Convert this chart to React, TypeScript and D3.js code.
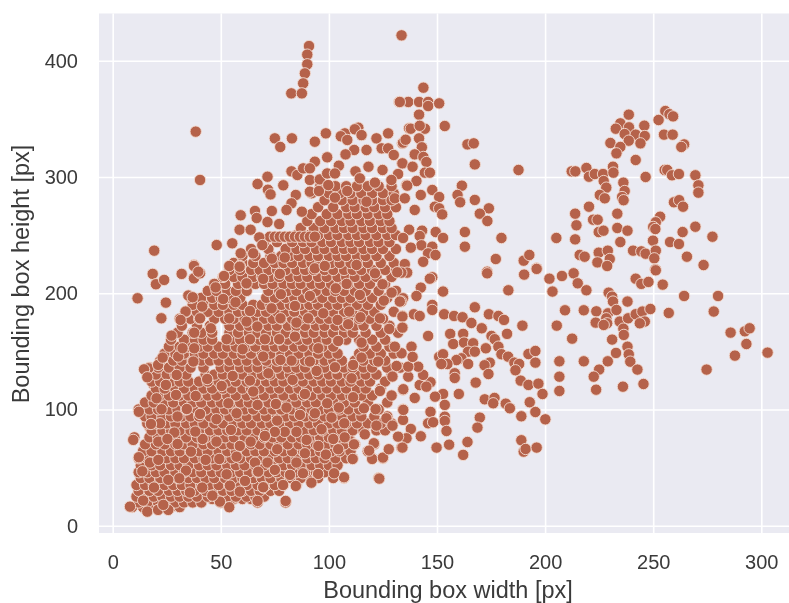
import React, { useRef, useEffect } from 'react';
import * as d3 from 'd3';

const xTicks = [0, 50, 100, 150, 200, 250, 300];
const yTicks = [0, 100, 200, 300, 400];

// lower blob, dots half hidden between the rows below
const underHeights = [23, 33, 38, 44, 49, 55, 61, 67, 73, 79, 85, 91, 97, 103, 109, 115, 121];
const underWidths = [
  [13, 17, 21, 25, 29, 33, 37, 41, 46, 51, 56, 60, 64],
  [13, 17, 22, 26, 30, 34, 39, 43, 47, 52, 56, 60, 65, 69],
  [14, 18, 23, 27, 31, 37, 42, 46, 50, 55, 60, 64, 68, 72, 77],
  [15, 19, 24, 28, 32, 37, 41, 45, 50, 54, 58, 62, 67, 71, 75, 80, 84],
  [14, 18, 22, 26, 31, 35, 39, 44, 48, 52, 57, 61, 65, 69, 74, 78, 82, 87, 91],
  [15, 20, 24, 29, 33, 37, 42, 46, 50, 55, 59, 63, 68, 72, 76, 81, 85, 89, 94],
  [14, 18, 22, 27, 31, 35, 40, 44, 48, 53, 57, 61, 66, 70, 74, 79, 83, 87, 92, 96, 101],
  [16, 20, 25, 29, 33, 38, 42, 47, 51, 55, 60, 64, 68, 73, 77, 81, 86, 90, 94, 98, 103],
  [18, 22, 27, 31, 35, 40, 44, 49, 53, 57, 62, 66, 71, 75, 79, 84, 88, 92, 97, 101, 105, 110],
  [19, 24, 28, 33, 37, 41, 46, 50, 55, 59, 63, 68, 72, 77, 81, 85, 90, 94, 99, 103, 107],
  [17, 22, 26, 30, 35, 39, 44, 48, 52, 57, 61, 66, 70, 74, 79, 83, 88, 92, 96, 101, 105, 110, 115],
  [16, 21, 25, 29, 34, 38, 43, 47, 52, 56, 60, 65, 69, 74, 78, 82, 87, 91, 96, 100, 104, 109, 113],
  [15, 19, 24, 28, 33, 37, 41, 46, 50, 55, 59, 63, 68, 72, 77, 81, 85, 90, 94, 99, 103, 107],
  [16, 20, 25, 29, 34, 38, 42, 47, 51, 56, 60, 64, 69, 73, 78, 82, 86, 91, 95, 100, 104],
  [19, 23, 28, 32, 37, 41, 45, 50, 54, 59, 63, 67, 72, 76, 81, 85, 89, 94, 98, 103, 107],
  [21, 25, 30, 34, 39, 43, 47, 52, 56, 61, 65, 69, 74, 78, 83, 87, 91, 96, 100, 105, 110],
  [19, 23, 28, 32, 37, 41, 45, 50, 54, 59, 63, 67, 72, 76, 81, 85, 89, 94, 98, 103, 107, 112],
];

// main blob, read row by row: one height, then the widths seen at that height
const blobHeights = [16, 20, 25, 30, 35, 41, 46, 52, 58, 64, 70, 76, 82, 88, 94, 100, 106, 112, 118, 124, 130, 136, 142, 148, 154, 160, 166, 172, 178, 184, 190, 196, 202, 208, 214, 220, 226, 232, 238, 244, 250, 256, 262, 268, 274, 280, 286, 292];
const blobWidths = [
  [9, 14, 19, 23, 27, 31],
  [12, 16, 21, 25, 29, 33, 37, 41, 50, 54, 67, 80],
  [11, 15, 19, 23, 27, 31, 35, 39, 44, 48, 53, 57, 62, 66, 70],
  [12, 17, 21, 26, 30, 34, 38, 43, 47, 51, 55, 60, 64, 68, 73, 77],
  [11, 15, 19, 24, 28, 32, 36, 41, 45, 49, 54, 58, 62, 67, 71, 75, 79, 85],
  [13, 17, 22, 26, 30, 35, 39, 43, 47, 52, 56, 60, 65, 69, 73, 78, 82, 87, 92, 95, 102, 107, 123],
  [12, 16, 20, 24, 29, 33, 37, 41, 46, 50, 55, 59, 63, 67, 72, 76, 80, 85, 89, 94, 98],
  [13, 18, 22, 27, 31, 35, 40, 44, 48, 53, 57, 61, 66, 70, 74, 79, 83, 87, 92, 96, 100, 104],
  [12, 16, 20, 25, 29, 33, 38, 42, 46, 51, 55, 59, 64, 68, 72, 77, 81, 85, 90, 94, 98, 103, 108, 111, 120, 125],
  [14, 18, 23, 27, 31, 36, 40, 44, 49, 53, 57, 62, 66, 70, 75, 79, 83, 88, 92, 96, 101, 105, 110, 118],
  [15, 20, 24, 29, 33, 37, 42, 46, 51, 55, 59, 64, 68, 73, 77, 81, 86, 90, 94, 99, 103, 107, 112, 121],
  [10, 17, 21, 26, 30, 34, 39, 43, 48, 52, 56, 61, 65, 70, 74, 78, 83, 87, 91, 96, 100, 105, 109],
  [18, 23, 27, 31, 36, 40, 45, 49, 53, 58, 62, 67, 71, 75, 80, 84, 89, 93, 97, 102, 106, 111, 116, 122, 126],
  [16, 20, 25, 29, 34, 38, 42, 47, 51, 56, 60, 64, 69, 73, 78, 82, 86, 91, 95, 100, 104, 108, 113, 118, 124, 129],
  [15, 18, 23, 27, 32, 36, 40, 45, 49, 54, 58, 62, 67, 71, 76, 80, 84, 89, 93, 98, 102, 106, 111, 115, 121, 127],
  [12, 17, 21, 26, 30, 34, 39, 43, 48, 52, 56, 61, 65, 70, 74, 78, 83, 87, 92, 96, 100, 105, 109, 114, 123],
  [15, 19, 24, 28, 33, 37, 41, 46, 50, 55, 59, 63, 68, 72, 77, 81, 85, 90, 94, 99, 103, 107, 112, 118, 127],
  [18, 22, 26, 31, 35, 40, 44, 48, 53, 57, 62, 66, 70, 75, 79, 84, 88, 92, 97, 101, 106, 110, 115, 120, 129],
  [20, 24, 29, 33, 38, 42, 46, 51, 55, 60, 64, 68, 73, 77, 82, 86, 90, 95, 99, 104, 108, 113, 117, 124],
  [18, 22, 27, 31, 35, 40, 44, 49, 53, 57, 62, 66, 71, 75, 79, 84, 88, 93, 97, 101, 106, 110, 115, 119, 126],
  [16, 20, 25, 29, 34, 43, 47, 51, 56, 60, 65, 69, 73, 78, 82, 87, 91, 95, 100, 104, 109, 113, 117, 122, 129],
  [17, 21, 26, 31, 36, 42, 50, 54, 59, 63, 67, 72, 76, 81, 85, 89, 94, 98, 103, 107, 111, 116, 120, 127, 133],
  [22, 28, 32, 37, 41, 45, 49, 54, 58, 62, 67, 71, 76, 80, 84, 89, 93, 98, 102, 106, 112, 116, 121, 126],
  [24, 29, 33, 38, 42, 47, 51, 56, 60, 64, 69, 73, 78, 82, 86, 91, 95, 100, 104, 114, 119, 124, 130],
  [26, 31, 35, 40, 44, 49, 53, 57, 62, 66, 71, 75, 79, 84, 88, 93, 97, 102, 116, 122, 128],
  [27, 33, 38, 42, 46, 55, 59, 64, 68, 73, 77, 81, 86, 90, 95, 99, 104, 108, 114, 120, 126],
  [30, 37, 41, 46, 54, 58, 63, 67, 71, 76, 80, 85, 89, 93, 98, 102, 107, 111, 117, 124, 132],
  [32, 39, 45, 54, 59, 63, 67, 72, 76, 81, 85, 89, 94, 98, 103, 107, 112, 116, 122, 128],
  [31, 36, 40, 47, 52, 56, 61, 65, 70, 74, 78, 83, 87, 92, 96, 100, 105, 109, 114, 119, 125],
  [34, 39, 44, 49, 54, 58, 62, 67, 71, 76, 80, 84, 89, 93, 98, 102, 107, 111, 116, 121, 130],
  [37, 42, 47, 51, 56, 60, 65, 69, 73, 78, 82, 87, 91, 95, 100, 104, 109, 113, 118, 124],
  [36, 41, 46, 50, 54, 59, 71, 75, 80, 84, 88, 93, 97, 102, 106, 110, 115, 120, 127],
  [44, 48, 53, 57, 62, 72, 77, 81, 85, 90, 94, 99, 103, 107, 112, 117, 123, 131],
  [47, 52, 58, 62, 66, 70, 74, 79, 83, 87, 92, 96, 101, 105, 109, 114, 119, 126],
  [51, 56, 60, 65, 69, 73, 77, 82, 86, 90, 95, 99, 104, 108, 112, 117, 122, 129],
  [54, 59, 64, 68, 72, 76, 80, 85, 89, 93, 98, 102, 107, 111, 115, 120, 126, 131],
  [56, 60, 65, 70, 75, 79, 83, 88, 92, 96, 101, 105, 110, 114, 118, 124, 130],
  [60, 66, 73, 78, 82, 86, 91, 95, 100, 104, 108, 113, 117, 122, 128],
  [64, 72, 80, 85, 89, 94, 98, 103, 107, 111, 116, 120, 125, 131],
  [70, 76, 83, 88, 92, 97, 101, 106, 110, 114, 119, 123, 128],
  [85, 91, 95, 100, 104, 109, 113, 117, 122, 127, 131],
  [87, 93, 98, 103, 107, 111, 116, 120, 125, 129],
  [90, 96, 101, 106, 110, 115, 119, 124, 128],
  [92, 99, 104, 109, 113, 118, 123, 127],
  [95, 102, 108, 112, 117, 121, 126, 131],
  [98, 106, 111, 116, 120, 125, 129],
  [92, 100, 105, 110, 115, 120, 125, 130],
  [96, 103, 108, 113, 118, 123, 129],
];

// the row of near identical boxes at about 249 px high
const flatRowWidths = [72.7, 75, 77.3, 79.6, 81.9, 84.3, 86.6, 88.9, 91.2, 93.5];

// left edge and stragglers of the blob
const edgeWidths = [8, 16, 21, 25.7, 14.1, 23.4, 53.9, 49.6, 80, 67, 123.3, 107, 102.4, 95, 88, 84.7, 78.8, 69.6, 91.9, 120, 125, 111, 111.6, 107.3, 120.8, 118.6, 127.7, 133.6, 9.5, 12.1, 12.1, 11.5, 24.6, 22.5, 18.5, 20, 23.8, 31.9, 37.6, 37.6, 40.4, 27.2, 16.5, 14.5, 16, 21, 23.1, 35, 37, 47.6, 51.5, 58.8, 33.7, 31.4, 40.4, 41.4, 37.7, 45.4];
const edgeHeights = [16.4, 12.1, 13.6, 13.6, 21.6, 17.9, 15.9, 20.7, 21.3, 21.3, 40.5, 41.7, 45.1, 44.5, 45.1, 34.2, 35, 32.8, 37, 57.4, 58.6, 57.4, 70, 76, 70.9, 64.6, 65.8, 67.2, 73.8, 58.9, 98, 195.6, 191.9, 178.4, 216.6, 207.7, 211.4, 216.6, 212.8, 224.3, 217.1, 163.5, 135.4, 134.5, 127.7, 138.3, 144.6, 198, 196.5, 205, 214.8, 223.4, 184.2, 177, 178.4, 188.5, 166, 169.8];

// top of the blob, above about 220 px high
const crownWidths = [90.8, 90, 90, 88.9, 88.1, 82.6, 87.5, 132.5, 38.4, 40.4, 75, 82.9, 77.5, 93.5, 98.6, 107.4, 105.5, 113.6, 112, 108.5, 115.1, 122, 127.4, 137.1, 134, 111.7, 117.4, 124.4, 127.4, 107.7, 130, 93.5, 99.2, 104.6, 118.3, 133.9, 124.8, 112.3, 82.7, 85.4, 88.1, 91.2, 91.2, 95.8, 99.2, 102.8, 114.3, 121.3, 132, 128.9, 135.9, 71.6, 67, 71.8, 73, 78.9, 84.7, 91.2, 95.4, 102.8, 99.7, 108.5, 117.4, 130.5, 82.7, 80.4, 73.6, 65.8, 59.2, 66.6, 71.6, 77, 87.5, 58.7, 63.8, 67.8, 55.3, 48.1, 69.2, 19.2, 59.2, 65, 73.6, 79.6, 53.9, 58.7, 37.6, 39.6];
const crownHeights = [412.6, 405.2, 396.9, 389.1, 380.5, 371.9, 371.9, 364.5, 339, 297.4, 333.2, 333.2, 325.8, 330.3, 337.5, 337.5, 335, 342.4, 341, 331.8, 336, 333.2, 337.5, 341.8, 328.9, 323.2, 323.2, 324.6, 324.6, 319.4, 318.9, 313.1, 316.9, 309.7, 308.8, 311.7, 306, 304.8, 304.8, 301.7, 307.4, 307.4, 297.4, 297.9, 303, 303, 298.8, 295.1, 302.5, 297.4, 293, 300.2, 293.9, 289, 285, 292.8, 284.5, 287.3, 287.9, 282.2, 293, 287.9, 278.7, 281.6, 277.3, 271.6, 270.7, 270.7, 267, 264.7, 261.2, 259.5, 270.1, 254.6, 254.6, 248, 242.9, 241.4, 241.4, 236.6, 234.3, 234.3, 229.7, 230.6, 223.4, 222.8, 223.4, 218.5];

// scattered points right of the blob, upper half
const upperWidths = [133.6, 143.7, 136.7, 141.7, 145.9, 145.9, 151, 132.8, 141.7, 137.9, 144.4, 142, 153.6, 141.7, 134.3, 135.5, 143, 139.7, 143.7, 145.1, 134, 138.7, 144.4, 146.7, 140.5, 136.2, 147.8, 142.5, 151, 135.1, 139.7, 149, 151, 152.4, 137.1, 143.1, 149.4, 152.8, 142, 134.3, 142.8, 137.9, 147.8, 145.9, 149.3, 143.6, 135.1, 164.1, 167, 167.5, 187.7, 161.5, 159.5, 160.7, 167.5, 174, 169.8, 173.3, 162.9, 179.8, 162.9, 177.2, 190.1, 192.7, 196.1, 173.2];
const upperHeights = [421.8, 376.8, 364.5, 364.5, 364.5, 361, 363.3, 364.5, 353.6, 341.5, 341.5, 344, 343.8, 333.2, 329.5, 332, 325.5, 319.4, 317.2, 312.8, 311.7, 308.8, 303.7, 303.7, 296.5, 292.5, 288.8, 284.5, 282.7, 281.6, 271.6, 274.4, 273, 267.8, 254.6, 253.8, 252.6, 247.5, 249.2, 247.5, 241.2, 239.2, 240, 234.3, 232.9, 227, 225, 328, 328.9, 310.8, 306, 292.5, 284.5, 278.2, 280.2, 273, 268.4, 262.1, 252.6, 247.5, 240, 229.4, 228, 232.9, 221.4, 218.5];

// far right cluster, above 205 px high
const clusterWidths = [238.7, 234.8, 232.7, 238.8, 245.9, 236.8, 241.9, 246.1, 238.7, 244.1, 230.2, 234.8, 233, 241.9, 255.6, 257.5, 259.2, 252.5, 255, 259, 264.3, 263, 212.3, 214, 219.1, 220.3, 223, 226.8, 231.4, 231.6, 227.1, 228.3, 236.2, 236.8, 225.3, 227.6, 235.6, 236.3, 246.5, 255.3, 256.5, 258.7, 261.9, 269.5, 270.9, 270.9, 259.6, 262, 263.8, 220.3, 213.9, 214.5, 213.9, 205.2, 222.2, 224.3, 224.8, 227, 233.4, 233.4, 238.1, 234.8, 253.2, 251.2, 250, 251, 249.9, 257.8, 261.9, 263.6, 269.5, 277.4, 265.6, 273.3, 216, 218.3, 224.8, 229, 229.9, 224.2, 228.7, 240.7, 244.5, 246.5, 251.2, 250.5, 251];
const clusterHeights = [353.6, 346.1, 341.5, 342.7, 344.1, 336.9, 336.4, 335.2, 331.2, 328.9, 329.2, 325.8, 320.3, 314.6, 356.7, 354, 352.1, 349, 336.4, 336.4, 328, 325.8, 304.8, 304.8, 307.7, 300.2, 302.5, 302.5, 308.8, 303.7, 296.5, 290.8, 295.1, 287.9, 284.5, 281.6, 282.7, 280, 300, 306, 306, 301.4, 302.5, 301.4, 292.8, 286.5, 278.2, 280, 274.4, 274.4, 268.4, 258.4, 246.3, 247.5, 263.2, 263.2, 252.6, 253.8, 268.4, 256.1, 253.8, 244, 265.8, 261, 257, 255.2, 245.2, 244, 242.3, 252.6, 257.2, 248.6, 231.4, 224.2, 232.9, 231.4, 234.9, 236.6, 229.4, 226.5, 223.4, 236.6, 236, 234, 236.6, 230, 220.5];

// scattered points right of the blob, lower half
const lowerWidths = [196.1, 190.3, 173.2, 213.2, 207.8, 202, 215.1, 219.1, 203.4, 183, 152.8, 147.8, 146.7, 142.5, 140.5, 134.3, 133.5, 136.2, 133.5, 147.8, 147.8, 153.3, 157.9, 161.8, 167.5, 174, 178.4, 181, 165.9, 170.7, 189.5, 182.4, 156.1, 162.1, 175.2, 176.7, 145.9, 157.5, 162.5, 166.7, 172.6, 178.4, 164.4, 167.5, 179.8, 182.9, 192.3, 195.5, 151, 152.8, 161.3, 159, 154.8, 152, 164.4, 174.4, 172, 185.8, 188, 195.5, 186.3, 173.8, 158.2, 158.2, 167.9, 188.7, 192.3, 196.9, 198.8, 160.1, 152.8, 149.1, 139.7, 134.3, 147, 142, 145.1, 143.6, 141.3, 136.7, 136.7, 139.3, 142, 134, 134, 138.2, 138.7, 133.6, 172.1, 176.6, 176, 181.8, 183.7, 192.9, 195.5, 200.1, 189, 169.8, 168.7, 153.6, 153.6, 153.6, 154.4, 147, 145.9, 148.2, 134.3, 134.3, 137.9, 142.5, 135.9, 134, 149.8, 155.6, 164.1, 162.1, 189, 190.1, 191, 196.1];
const lowerHeights = [220.9, 216, 217.1, 217.1, 214.8, 212.5, 208.5, 202.5, 201.4, 202.5, 201.4, 213.7, 212.5, 204.8, 197.6, 195.6, 192.8, 217.7, 217.7, 189.9, 185.6, 181.9, 180.4, 179.3, 187.9, 181.9, 180.4, 177, 174.4, 169.8, 172.1, 165, 165, 165, 163.2, 160.4, 163.2, 156.3, 157.5, 156.9, 152.6, 154, 149.7, 149.7, 147.5, 145.4, 147.7, 150.3, 145.2, 147.5, 144, 142.5, 139.1, 139.1, 139.1, 140.3, 138, 140.3, 139.1, 140.3, 133.7, 130.5, 131.1, 127.1, 123.1, 124.8, 121.1, 122.2, 113.3, 113.3, 113.3, 111, 109.9, 117, 123.4, 121, 119.6, 129.7, 136.8, 128.2, 136.8, 181.9, 180.4, 180.4, 170.4, 154, 145.2, 148.3, 108.7, 109.9, 105.3, 105, 101, 106.2, 97.8, 91.5, 94.1, 93, 84.4, 103.9, 93.8, 90.1, 81.5, 97.9, 88.1, 89, 100.1, 91, 83.2, 76.9, 75.2, 67.2, 67.2, 69.7, 72, 60.9, 73.5, 63.7, 66, 67.2];

// far right cluster, below 205 px high
const tailWidths = [205.4, 209.2, 217.9, 212.5, 206.6, 206.6, 206.6, 217.9, 223.7, 223.4, 229.4, 231, 231.4, 238.1, 229.1, 228.3, 228.7, 227.1, 233, 234.5, 238.4, 241.9, 245, 248.7, 246.1, 243.8, 236.2, 236.4, 231, 238.1, 238.7, 239.4, 232.8, 229, 225, 222.5, 223.6, 242.7, 236, 245.5, 241.9, 244.5, 247.8, 251.2, 254.4, 257.2, 264.3, 280, 278, 285.8, 292.4, 294.6, 293.1, 287.8, 302.9, 274.7];
const tailHeights = [172.1, 185.3, 185.3, 160.9, 141.4, 128.2, 115.9, 141.4, 184.4, 174.7, 200.5, 197, 192.8, 192.8, 182.7, 178.4, 174.1, 172.7, 185.6, 175.6, 178.4, 181.9, 184.2, 186.4, 175.6, 174.1, 169.5, 164.1, 160.1, 154, 147.4, 141.1, 148.6, 141.4, 134.3, 128.2, 117, 134.3, 119.6, 121.9, 212.5, 208, 209.7, 219.7, 207.4, 183, 197.6, 197.6, 184.2, 166.1, 167.2, 169.8, 156.3, 146.3, 148.9, 134.3];

// whole dots lying on top of the blob, drawn last
const topWidths = [22.6, 30, 34.3, 40.4, 48, 53.5, 57.3, 67, 75.5, 80.4, 86.6, 93.5, 88.9, 99.2, 104.6, 111.2, 101.2, 107.1, 96.6, 89.7, 85, 79.6, 75, 76.1, 70.4, 63.8, 58.8, 54.7, 48, 41.6, 38.2, 28.5, 21.9, 17.7, 21.1, 25.3, 30, 36.2, 43, 49.3, 57.3, 65.8, 71.6, 76.1, 85, 88.9, 98.6, 104.3, 102, 95.1, 17.2, 13.7, 21.1, 33.9, 30.8, 19.1, 25.7, 35.7, 41.4, 46.1, 54.2, 58.8, 61.2, 69.6, 52.7, 67.3, 82, 75, 43.7, 50.4, 55.5, 63.5, 65, 72, 82.7, 83.2, 94.3, 102.8, 110.5, 111.2, 91.2, 77.6, 69.6, 60.1, 63.5, 70.4, 77, 84.3, 95.1, 104.3, 115.1, 115.1, 122.8, 130.5, 131.3, 129.4, 134.4, 123.6, 116.2, 121.6, 134.4, 126.6, 129.4, 122, 116.6, 132, 66.9, 61.9, 53.9, 63.5, 77.6, 85, 90.4, 104, 108.9, 109.4, 97.4, 91.2, 84.3, 77.8, 73.5, 56.8, 51.1, 61.9, 69.6, 77.3, 93.5, 98.1, 112.8, 121.3, 131.6, 124.8, 114.3, 103.2, 108.2, 125.4, 129, 132.8, 123.6, 134, 134, 127.9, 114.6, 29.6, 24.6, 29.3, 20.3, 38.4, 37.3, 30.3, 32.3, 37.7, 52.7];
const topHeights = [100.2, 93.9, 100.4, 96.1, 91.6, 105.3, 96.7, 103.9, 104.7, 101.6, 95.3, 96.7, 113.3, 105.3, 101.6, 110.5, 93, 88.1, 83, 73.8, 80.7, 80.7, 80.7, 90.4, 77.2, 72.3, 68.6, 82.4, 72.3, 74.6, 80.9, 80.1, 88.1, 87.5, 72.3, 74.6, 70.3, 63.7, 56.6, 57.4, 59.4, 54.3, 54.3, 65.8, 54.3, 62.3, 61.2, 65.8, 74.6, 68.6, 54.3, 46.8, 56.6, 47.4, 40.8, 32.8, 39.4, 28.5, 32.8, 25.9, 34.5, 29.3, 38.5, 33.1, 44.2, 46.5, 43.7, 48, 126.2, 120.2, 128.8, 124.8, 115.4, 131.1, 142, 125.4, 133.1, 136.3, 126.8, 138.3, 141.2, 142.6, 145.5, 151.8, 160.4, 160.4, 160.4, 162.6, 152.6, 158.9, 157.5, 144.6, 141.2, 154, 137.4, 128.3, 117.4, 115.9, 101, 100.2, 99.6, 92.4, 86.1, 86.1, 78.6, 76.6, 171.3, 175.6, 178.4, 184.7, 178.4, 174.7, 178.4, 177, 173.3, 184.2, 182.7, 197.6, 189, 199.1, 187, 192.2, 195, 208.5, 212.3, 216.6, 221.4, 223.4, 224.3, 217.1, 218, 207.7, 198.5, 204.2, 208, 193.6, 200.5, 192.8, 178.4, 179.9, 170.4, 169.3, 179.3, 129.7, 121.1, 112.5, 109.6, 111.6, 141.2, 145.5, 152.6, 152.6, 160.4];

const FONT = '"Liberation Sans", Arial, sans-serif';
const TEXT_COLOR = '#3a3a3a';

const App = () => {
  const svgRef = useRef<SVGSVGElement | null>(null);

  useEffect(() => {
    const svg = d3.select(svgRef.current);
    svg.selectAll('*').remove();

    const panel = { left: 99, right: 789, top: 13.5, bottom: 533 };
    const x = d3.scaleLinear().domain([0, 300]).range([112.7, 761.3]);
    const y = d3.scaleLinear().domain([0, 400]).range([525.7, 60.7]);

    svg
      .append('rect')
      .attr('x', panel.left)
      .attr('y', panel.top)
      .attr('width', panel.right - panel.left)
      .attr('height', panel.bottom - panel.top)
      .attr('fill', '#eaeaf2');

    const xAxis = d3
      .axisBottom(x)
      .tickValues(xTicks)
      .tickSize(panel.top - panel.bottom)
      .tickPadding(21.5);
    const yAxis = d3
      .axisLeft(y)
      .tickValues(yTicks)
      .tickSize(panel.left - panel.right)
      .tickPadding(21);

    const xAxisGroup = svg
      .append('g')
      .attr('transform', `translate(0, ${panel.bottom})`)
      .call(xAxis);
    const yAxisGroup = svg
      .append('g')
      .attr('transform', `translate(${panel.left}, 0)`)
      .call(yAxis);

    [xAxisGroup, yAxisGroup].forEach((g) => {
      g.select('.domain').remove();
      g.selectAll('line').attr('stroke', '#fff').attr('stroke-width', 1.6);
      g.selectAll('text')
        .attr('fill', TEXT_COLOR)
        .style('font-family', FONT)
        .style('font-size', '20px');
    });

    const points: [number, number][] = [];
    underHeights.forEach((h, i) => underWidths[i].forEach((w) => points.push([w, h])));
    blobHeights.forEach((h, i) => blobWidths[i].forEach((w) => points.push([w, h])));
    flatRowWidths.forEach((w) => points.push([w, 248.6]));
    const addPairs = (ws: number[], hs: number[]) => ws.forEach((w, i) => points.push([w, hs[i]]));
    addPairs(edgeWidths, edgeHeights);
    addPairs(crownWidths, crownHeights);
    addPairs(upperWidths, upperHeights);
    addPairs(clusterWidths, clusterHeights);
    addPairs(lowerWidths, lowerHeights);
    addPairs(tailWidths, tailHeights);
    addPairs(topWidths, topHeights);

    svg
      .append('g')
      .selectAll('circle')
      .data(points)
      .enter()
      .append('circle')
      .attr('cx', (d) => x(d[0]))
      .attr('cy', (d) => y(d[1]))
      .attr('r', 5.7)
      .attr('fill', '#b5624a')
      .attr('stroke', '#f3dcd3')
      .attr('stroke-width', 0.9);

    // Axis titles
    svg
      .append('text')
      .attr('x', 448)
      .attr('y', 597.5)
      .attr('text-anchor', 'middle')
      .attr('fill', TEXT_COLOR)
      .style('font-family', FONT)
      .style('font-size', '23.5px')
      .text('Bounding box width [px]');

    svg
      .append('text')
      .attr('transform', 'translate(28.5, 274) rotate(-90)')
      .attr('text-anchor', 'middle')
      .attr('fill', TEXT_COLOR)
      .style('font-family', FONT)
      .style('font-size', '23.5px')
      .text('Bounding box height [px]');
  }, []);

  return (
    <svg
      ref={svgRef}
      width={789}
      height={603}
      style={{ position: 'absolute', left: 0, top: 0, background: '#fff', filter: 'blur(0.4px)' }}
    />
  );
};

export default App;
